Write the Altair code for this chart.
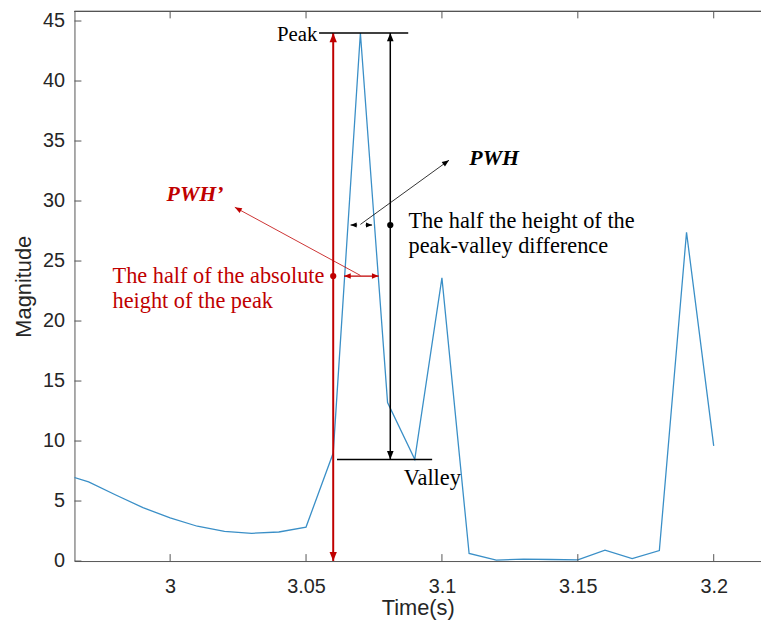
import altair as alt
import pandas as pd

# ---- signal ----
time = [2.96, 2.97, 2.98, 2.99, 3.00, 3.01, 3.02, 3.03, 3.04, 3.05,
        3.06, 3.07, 3.08, 3.09, 3.10, 3.11, 3.12, 3.13, 3.14, 3.15,
        3.16, 3.17, 3.18, 3.19, 3.20]
magnitude = [7.3, 6.6, 5.5, 4.45, 3.6, 2.9, 2.47, 2.31, 2.42, 2.83,
             9.0, 44.0, 13.2, 8.47, 23.6, 0.63, 0.08, 0.16, 0.13, 0.1,
             0.9, 0.2, 0.87, 27.4, 9.6]

x_ticks = [3.0, 3.05, 3.1, 3.15, 3.2]
y_ticks = [0, 5, 10, 15, 20, 25, 30, 35, 40, 45]

# ---- annotation geometry (data units) ----
seg_x = [3.06, 3.081, 3.0548, 3.0614, 3.064, 3.0664, 3.0719, 3.0700, 3.0700]
seg_x2 = [3.06, 3.081, 3.0876, 3.0964, 3.0767, 3.0688, 3.0743, 3.1026, 3.0238]
seg_y = [0, 8.47, 44.0, 8.47, 23.75, 28.0, 28.0, 28.05, 23.8]
seg_y2 = [44.0, 44.0, 44.0, 8.47, 23.75, 28.0, 28.0, 33.4, 29.48]
seg_color = ["#c00000", "#000000", "#000000", "#000000", "#c00000",
             "#000000", "#000000", "#000000", "#c00000"]
seg_width = [2.0, 1.5, 1.5, 1.5, 1.3, 1.0, 1.0, 0.8, 0.8]

head_x = [3.06, 3.06, 3.081, 3.081, 3.064, 3.0767, 3.0664, 3.0743, 3.1026, 3.0238]
head_y = [44.0, 0, 44.0, 8.47, 23.75, 23.75, 28.0, 28.0, 33.4, 29.48]
head_angle = [0, 180, 0, 180, 270, 90, 270, 90, 54, 298.6]
head_color = ["#c00000", "#c00000", "#000000", "#000000", "#c00000",
              "#c00000", "#000000", "#000000", "#000000", "#c00000"]
head_size = [340, 340, 280, 280, 180, 180, 150, 150, 200, 200]

dot_x = [3.081, 3.06]
dot_y = [28.0, 23.75]
dot_color = ["#000000", "#c00000"]

note_x = [3.0860, 3.0877, 3.0877, 2.9788, 2.9788]
note_y = [6.32, 27.72, 25.63, 23.15, 21.06]
note_text = ["Valley", "The half the height of the", "peak-valley difference",
             "The half of the absolute", "height of the peak"]
note_color = ["#000000", "#000000", "#000000", "#c00000", "#c00000"]

label_x = [3.1101, 2.9987]
label_y = [33.0, 29.97]
label_text = ["PWH", "PWH\u2019"]
label_color = ["#000000", "#c00000"]

peak_x = [3.0542]
peak_y = [43.33]
peak_text = ["Peak"]

W, H = 692, 554
XDOM = [2.9648, 3.2174]
YDOM = [0, 45.8]
AXIS_COLOR = "#262626"
SANS = "Liberation Sans"
SERIF = "Liberation Serif"

xs = alt.Scale(domain=XDOM, nice=False, zero=False)
ys = alt.Scale(domain=YDOM, nice=False, zero=False)

x_axis = alt.Axis(
    values=x_ticks, format="~g", title="Time(s)", grid=False,
    tickSize=0, labelPadding=16, labelFont=SANS, labelFontSize=20,
    labelColor=AXIS_COLOR, domainColor="#555555", domainWidth=1,
    titleFont=SANS, titleFontSize=22, titleFontWeight="normal",
    titleColor=AXIS_COLOR, titlePadding=1)
y_axis = alt.Axis(
    values=y_ticks, title="Magnitude", grid=False,
    tickSize=0, labelPadding=10, labelFont=SANS, labelFontSize=20,
    labelColor=AXIS_COLOR, domainColor="#555555", domainWidth=1,
    titleFont=SANS, titleFontSize=22, titleFontWeight="normal",
    titleColor=AXIS_COLOR, titlePadding=7)


def X(f):
    return alt.X(f, scale=xs, axis=x_axis)


def Y(f):
    return alt.Y(f, scale=ys, axis=y_axis)


sig = pd.DataFrame({"t": time, "m": magnitude})
segs = pd.DataFrame({"x": seg_x, "x2": seg_x2, "y": seg_y, "y2": seg_y2,
                     "c": seg_color, "w": seg_width})
heads = pd.DataFrame({"x": head_x, "y": head_y, "a": head_angle,
                      "c": head_color, "s": head_size})
dots = pd.DataFrame({"x": dot_x, "y": dot_y, "c": dot_color})
notes = pd.DataFrame({"x": note_x, "y": note_y, "t": note_text, "c": note_color})
labels = pd.DataFrame({"x": label_x, "y": label_y, "t": label_text, "c": label_color})
peak = pd.DataFrame({"x": peak_x, "y": peak_y, "t": peak_text})
xt = pd.DataFrame({"v": x_ticks})
yt = pd.DataFrame({"v": y_ticks})

line = alt.Chart(sig).mark_line(color="#3a8fc7", strokeWidth=1.3, clip=True).encode(
    x=X("t:Q"), y=Y("m:Q"))

xb = alt.Chart(xt).mark_rule(color="#555555", strokeWidth=1).encode(
    x=X("v:Q"), y=alt.value(H), y2=alt.value(H - 7))
xtop = alt.Chart(xt).mark_rule(color="#555555", strokeWidth=1).encode(
    x=X("v:Q"), y=alt.value(0), y2=alt.value(7))
yl = alt.Chart(yt).mark_rule(color="#555555", strokeWidth=1).encode(
    y=Y("v:Q"), x=alt.value(0), x2=alt.value(7))
topline = alt.Chart(xt).mark_rule(color="#555555", strokeWidth=1).encode(
    x=alt.value(0), x2=alt.value(W), y=alt.value(0))

seg_layer = alt.Chart(segs).mark_rule().encode(
    x=X("x:Q"), x2="x2:Q", y=Y("y:Q"), y2="y2:Q",
    color=alt.Color("c:N", scale=None),
    strokeWidth=alt.StrokeWidth("w:Q", scale=None))

head_layer = alt.Chart(heads).mark_point(
    shape="M0,0L0.4,1L-0.4,1Z", filled=True, opacity=1, strokeWidth=0).encode(
    x=X("x:Q"), y=Y("y:Q"),
    angle=alt.Angle("a:Q", scale=None),
    color=alt.Color("c:N", scale=None),
    size=alt.Size("s:Q", scale=None))

dot_layer = alt.Chart(dots).mark_point(filled=True, opacity=1, size=40, shape="circle").encode(
    x=X("x:Q"), y=Y("y:Q"), color=alt.Color("c:N", scale=None))

note_layer = alt.Chart(notes).mark_text(
    align="left", baseline="alphabetic", font=SERIF, fontSize=22.5).encode(
    x=X("x:Q"), y=Y("y:Q"), text="t:N", color=alt.Color("c:N", scale=None))

label_layer = alt.Chart(labels).mark_text(
    align="left", baseline="alphabetic", font=SERIF, fontSize=22,
    fontWeight="bold", fontStyle="italic").encode(
    x=X("x:Q"), y=Y("y:Q"), text="t:N", color=alt.Color("c:N", scale=None))

peak_layer = alt.Chart(peak).mark_text(
    align="right", baseline="alphabetic", font=SERIF, fontSize=21, color="#000000").encode(
    x=X("x:Q"), y=Y("y:Q"), text="t:N")

chart = alt.layer(
    line, xb, xtop, yl, topline, seg_layer, head_layer, dot_layer,
    note_layer, label_layer, peak_layer
).properties(
    width=W, height=H,
    autosize=alt.AutoSizeParams(type="none"),
    padding={"left": 67, "top": 1, "right": 0, "bottom": 60},
    background="white",
).configure_view(stroke=None)

chart.save("out.html", embed_options={"renderer": "svg", "actions": False})
